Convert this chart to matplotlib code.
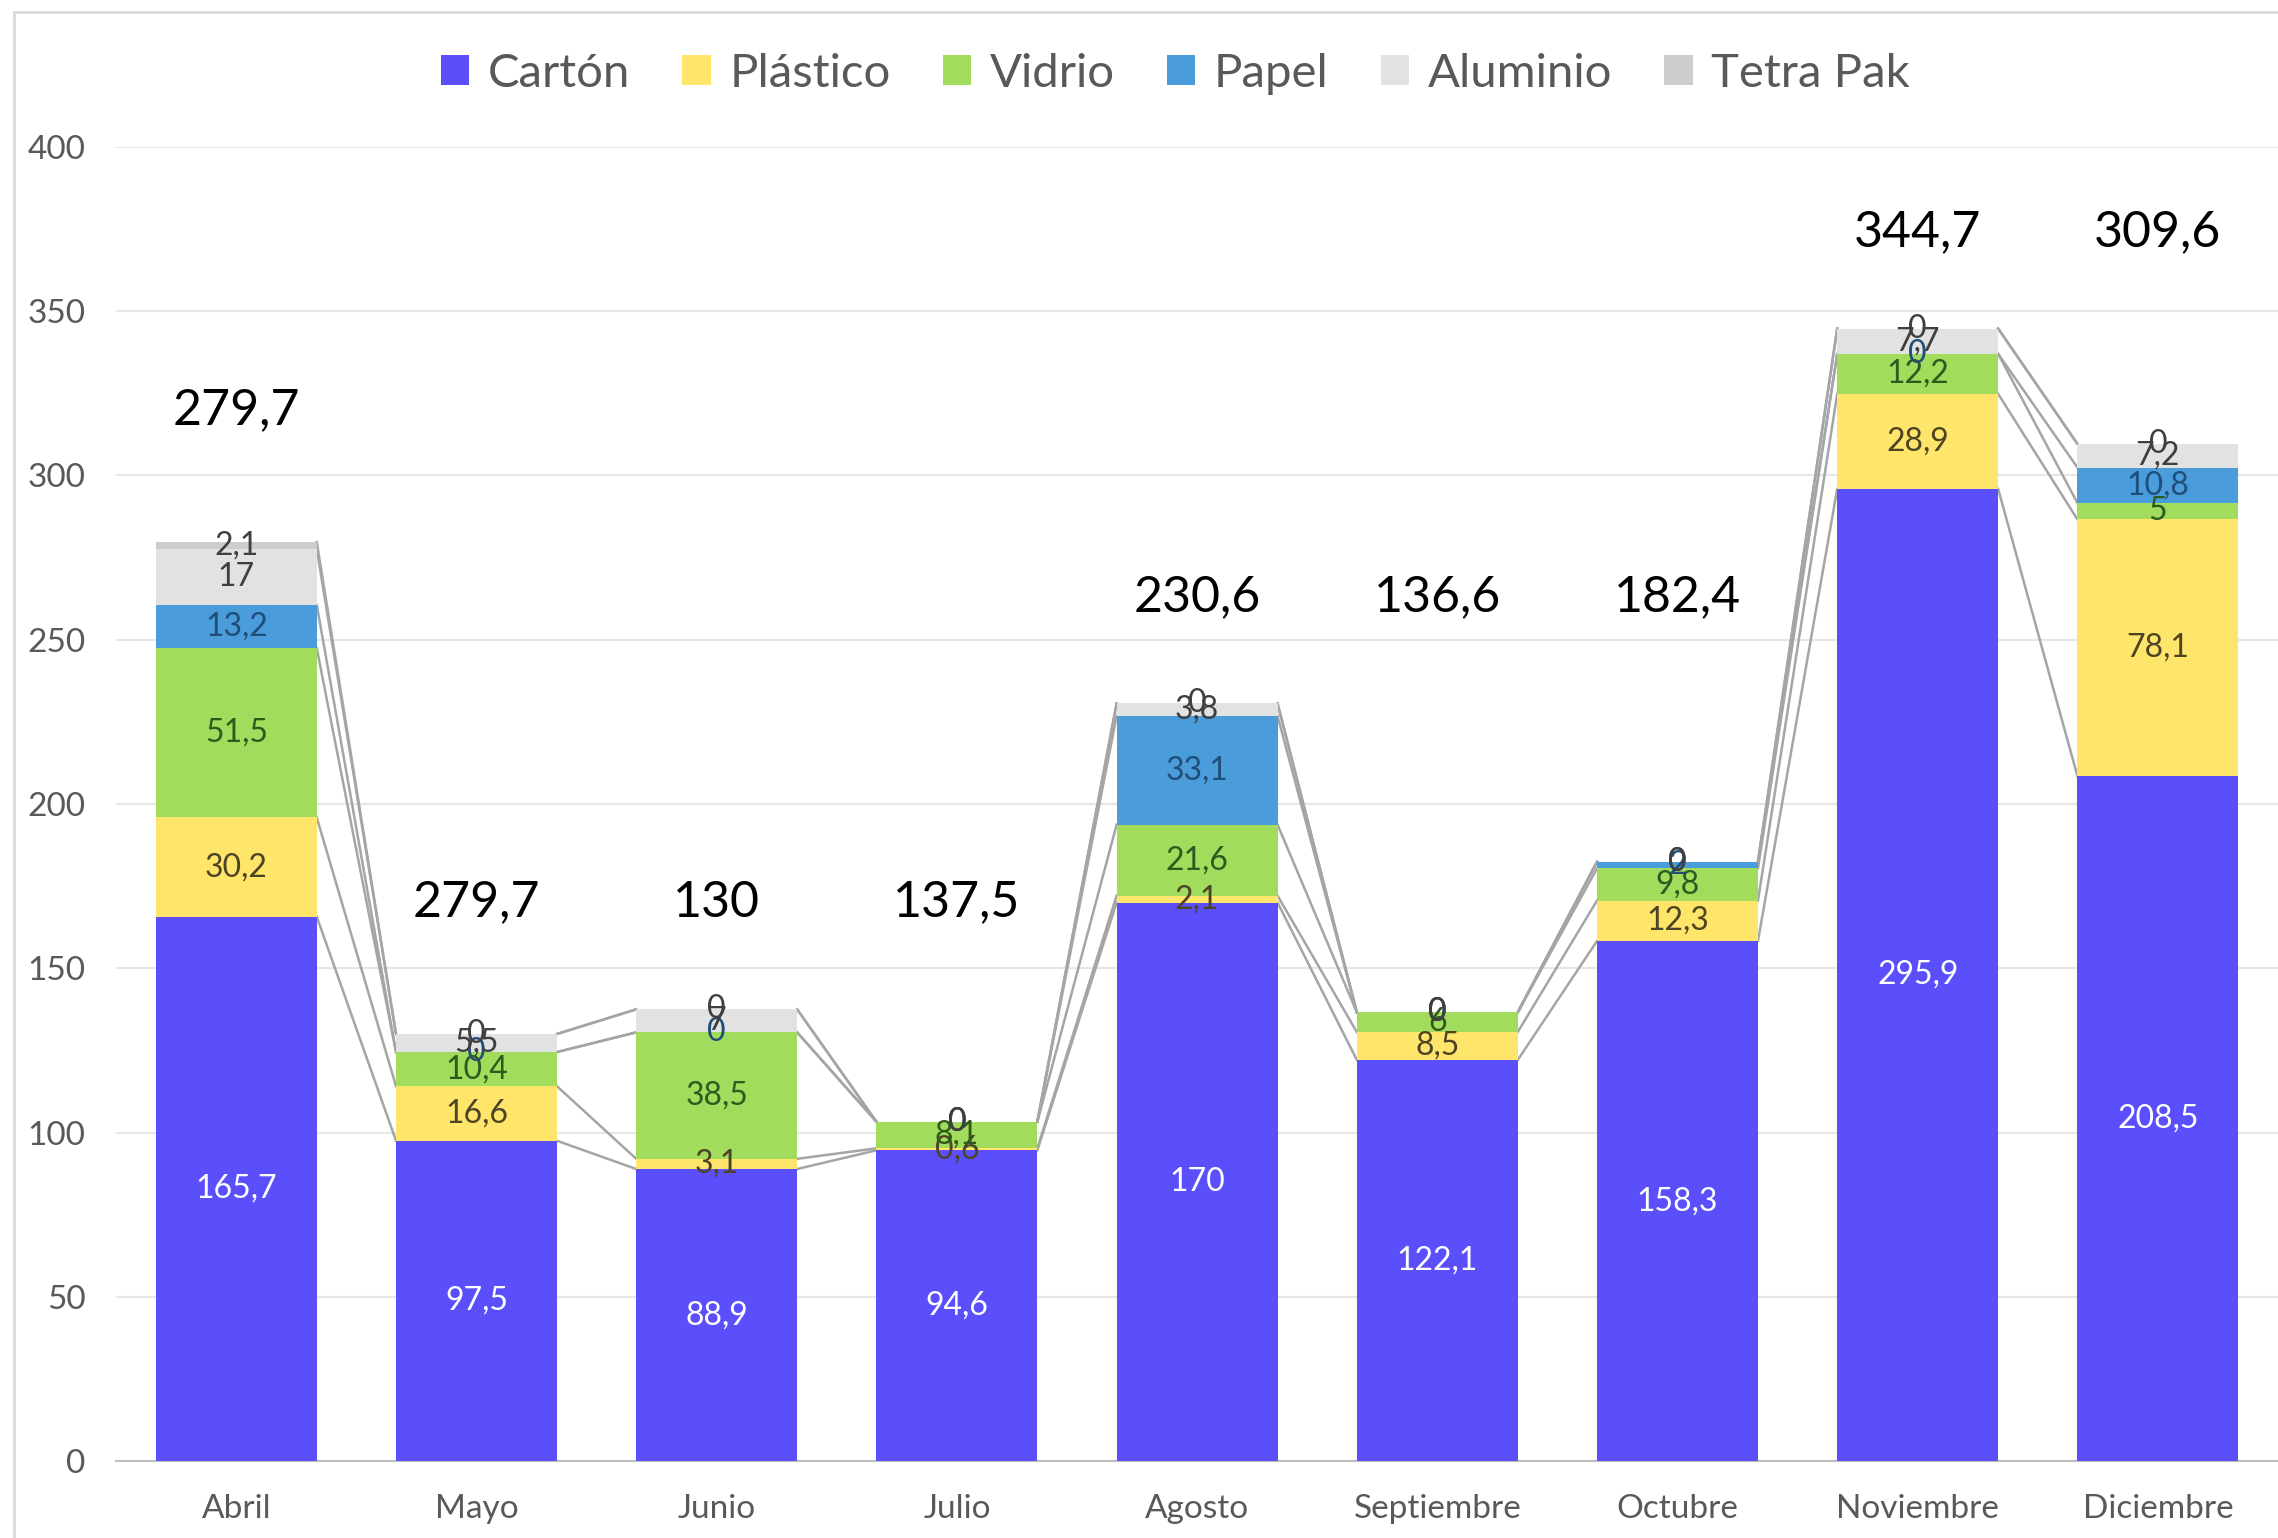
import numpy as np
import matplotlib.pyplot as plt
from matplotlib.patches import Rectangle

plt.rcParams['font.family'] = ['Lato', 'DejaVu Sans']

months = ["Abril", "Mayo", "Junio", "Julio", "Agosto", "Septiembre",
          "Octubre", "Noviembre", "Diciembre"]
series = ["Cartón", "Plástico", "Vidrio", "Papel", "Aluminio", "Tetra Pak"]

carton = [165.7, 97.5, 88.9, 94.6, 170, 122.1, 158.3, 295.9, 208.5]
plastico = [30.2, 16.6, 3.1, 0.6, 2.1, 8.5, 12.3, 28.9, 78.1]
vidrio = [51.5, 10.4, 38.5, 8.1, 21.6, 6, 9.8, 12.2, 5]
papel = [13.2, 0, 0, 0, 33.1, 0, 2, 0, 10.8]
aluminio = [17, 5.5, 7, 0, 3.8, 0, 0, 7.7, 7.2]
tetrapak = [2.1, 0, 0, 0, 0, 0, 0, 0, 0]

# total labels as typed on the original chart (not all match the bars)
total_labels = ["279,7", "279,7", "130", "137,5", "230,6", "136,6",
                "182,4", "344,7", "309,6"]
total_label_y = [320, 170, 170, 170, 263, 263, 263, 374, 374]

colors = ["#5A4FFB", "#FFE569", "#A2DC5C", "#4A9DDA", "#E2E2E2", "#CDCDCD"]
label_colors = ["white", "#4D4425", "#2F5A1E", "#1F4E79", "#3F3F3F", "#3F3F3F"]

values = np.array([carton, plastico, vidrio, papel, aluminio, tetrapak])

fig = plt.figure(figsize=(22.78, 15.38), dpi=100)
ax = fig.add_axes([0.051, 0.050, 0.949, 0.8545])

x = np.arange(len(months))
width = 0.67
bottom = np.zeros(len(months))
tops = []
for i, name in enumerate(series):
    ax.bar(x, values[i], width, bottom=bottom, color=colors[i], label=name,
           zorder=3)
    for j in range(len(months)):
        v = values[i][j]
        txt = ("%g" % v).replace(".", ",")
        ax.text(x[j], bottom[j] + v / 2, txt, ha="center", va="center",
                fontsize=23, color=label_colors[i], zorder=5)
    bottom = bottom + values[i]
    tops.append(bottom.copy())

# series lines between neighbouring bars
for level in tops:
    for j in range(len(months) - 1):
        ax.plot([x[j] + width / 2, x[j + 1] - width / 2],
                [level[j], level[j + 1]], color="#A5A5A5", lw=1.8, zorder=2)

for j in range(len(months)):
    ax.text(x[j], total_label_y[j], total_labels[j], ha="center",
            va="center", fontsize=36, color="black", zorder=6)

ax.set_xlim(-0.5, len(months) - 0.5)
ax.set_ylim(0, 400)
ax.set_yticks(np.arange(0, 401, 50))
ax.set_xticks(x)
ax.set_xticklabels(months)
ax.tick_params(axis="both", length=0, labelsize=24, colors="#595959")
ax.tick_params(axis="x", pad=24)
ax.tick_params(axis="y", pad=22)
ax.grid(axis="y", color="#E6E6E6", lw=1.5, zorder=0)
for s in ["top", "right", "left"]:
    ax.spines[s].set_visible(False)
ax.spines["bottom"].set_color("#BFBFBF")
ax.spines["bottom"].set_linewidth(1.5)

leg = ax.legend(loc="upper center", bbox_to_anchor=(0.49, 1.104), ncol=6,
                frameon=False, fontsize=34, handlelength=0.6,
                handleheight=0.6, handletextpad=0.4, columnspacing=1.1)
for t in leg.get_texts():
    t.set_color("#595959")

fig.patches.append(Rectangle((0.006, -0.1), 1.2, 1.092, transform=fig.transFigure,
                             fill=False, edgecolor="#D9D9D9", lw=2))

fig.savefig("out.png", dpi=100)
